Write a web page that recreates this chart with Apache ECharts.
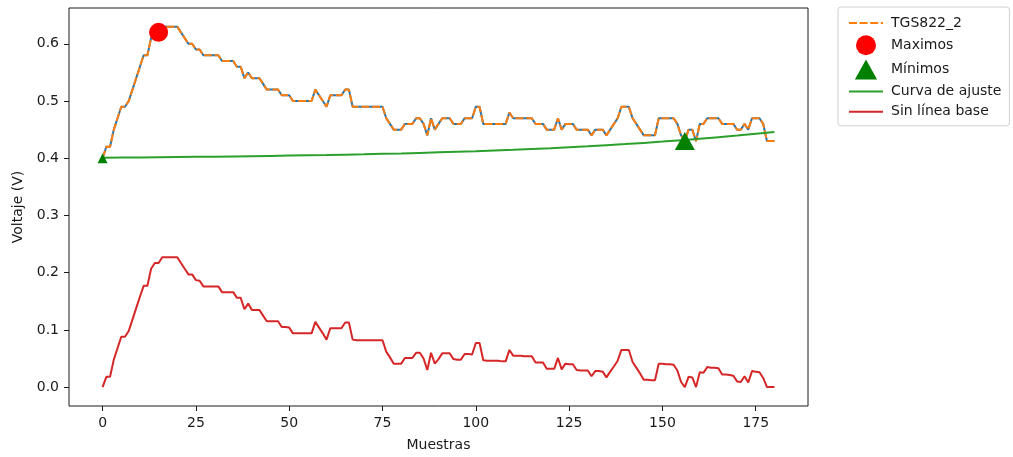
<!DOCTYPE html>
<html>
<head>
<meta charset="utf-8">
<title>TGS822_2</title>
<script src="https://cdn.jsdelivr.net/npm/echarts@6/dist/echarts.min.js"></script>
<style>
  html, body { margin: 0; padding: 0; background: #fff; }
  #chart { width: 1013px; height: 457px; }
</style>
</head>
<body>
<div id="chart"></div>
<script>
// Sensor TGS822_2 voltage per sample (V)
const voltage = [
  0.40,0.42,0.42,0.45,0.47,0.49,0.49,0.50,0.52,0.54,
  0.56,0.58,0.58,0.61,0.62,0.62,0.63,0.63,0.63,0.63,
  0.63,0.62,0.61,0.60,0.60,0.59,0.59,0.58,0.58,0.58,
  0.58,0.58,0.57,0.57,0.57,0.57,0.56,0.56,0.54,0.55,
  0.54,0.54,0.54,0.53,0.52,0.52,0.52,0.52,0.51,0.51,
  0.51,0.50,0.50,0.50,0.50,0.50,0.50,0.52,0.51,0.50,
  0.49,0.51,0.51,0.51,0.51,0.52,0.52,0.49,0.49,0.49,
  0.49,0.49,0.49,0.49,0.49,0.49,0.47,0.46,0.45,0.45,
  0.45,0.46,0.46,0.46,0.47,0.47,0.46,0.44,0.47,0.45,
  0.46,0.47,0.47,0.47,0.46,0.46,0.46,0.47,0.47,0.47,
  0.49,0.49,0.46,0.46,0.46,0.46,0.46,0.46,0.46,0.48,
  0.47,0.47,0.47,0.47,0.47,0.47,0.46,0.46,0.46,0.45,
  0.45,0.45,0.47,0.45,0.46,0.46,0.46,0.45,0.45,0.45,
  0.45,0.44,0.45,0.45,0.45,0.44,0.45,0.46,0.47,0.49,
  0.49,0.49,0.47,0.46,0.45,0.44,0.44,0.44,0.44,0.47,
  0.47,0.47,0.47,0.47,0.46,0.44,0.43,0.45,0.45,0.43,
  0.46,0.46,0.47,0.47,0.47,0.47,0.46,0.46,0.46,0.46,
  0.45,0.45,0.46,0.45,0.47,0.47,0.47,0.46,0.43,0.43,
  0.43
];

// Signal with the fitted baseline removed (V)
const sinLineaBase = [
  0.000,0.018,0.018,0.048,0.068,0.088,0.088,0.098,0.118,0.138,
  0.158,0.177,0.177,0.207,0.217,0.217,0.227,0.227,0.227,0.227,
  0.227,0.217,0.207,0.197,0.197,0.187,0.186,0.176,0.176,0.176,
  0.176,0.176,0.166,0.166,0.166,0.166,0.156,0.156,0.136,0.146,
  0.135,0.135,0.135,0.125,0.115,0.115,0.115,0.115,0.105,0.105,
  0.104,0.094,0.094,0.094,0.094,0.094,0.094,0.114,0.104,0.094,
  0.083,0.103,0.103,0.103,0.103,0.113,0.113,0.083,0.082,0.082,
  0.082,0.082,0.082,0.082,0.082,0.082,0.062,0.052,0.041,0.041,
  0.041,0.051,0.051,0.051,0.060,0.060,0.050,0.030,0.060,0.041,
  0.049,0.059,0.059,0.059,0.049,0.048,0.048,0.058,0.058,0.057,
  0.077,0.077,0.047,0.046,0.046,0.046,0.046,0.045,0.045,0.065,
  0.055,0.055,0.055,0.054,0.054,0.054,0.043,0.043,0.043,0.032,
  0.032,0.032,0.051,0.031,0.041,0.040,0.040,0.030,0.029,0.029,
  0.029,0.019,0.028,0.028,0.027,0.017,0.027,0.036,0.046,0.065,
  0.065,0.065,0.044,0.034,0.024,0.013,0.013,0.012,0.012,0.041,
  0.041,0.040,0.040,0.039,0.029,0.009,0.000,0.018,0.017,0.000,
  0.026,0.025,0.035,0.034,0.034,0.033,0.022,0.022,0.021,0.020,
  0.010,0.009,0.019,0.008,0.028,0.027,0.026,0.016,0.000,0.000,
  0.000
];

// Baseline fit curve, sampled every 10 samples
const fitX = [0,10,20,30,40,50,60,70,80,90,100,110,120,130,140,150,160,170,180];
const fitY = [0.4010,0.4015,0.4021,0.4028,0.4036,0.4046,0.4057,0.4070,0.4085,0.4103,
              0.4124,0.4148,0.4176,0.4209,0.4247,0.4291,0.4342,0.4397,0.4458];

// Detected extremes
const maxX = [15];
const maxY = [0.62];
const minX = [0, 156];
const minY = [0.40, 0.43];

// Axis ticks
const xTicks = [0, 25, 50, 75, 100, 125, 150, 175];
const yTicks = [0.0, 0.1, 0.2, 0.3, 0.4, 0.5, 0.6];

const pairs = (xs, ys) => ys.map((v, i) => [xs ? xs[i] : i, v]);

const FONT = 'DejaVu Sans';
const TXT = '#1a1a1a';
const lineOnly = { opacity: 0 };   // hide the marker drawn inside line legend icons

const chart = echarts.init(document.getElementById('chart'), null, { renderer: 'canvas' });

chart.setOption({
  animation: false,
  backgroundColor: '#fff',
  textStyle: { fontFamily: FONT },
  grid: {
    left: 69, right: 205, top: 8, bottom: 49,
    show: true, borderColor: '#1a1a1a', borderWidth: 1, backgroundColor: 'transparent'
  },
  legend: {
    orient: 'vertical',
    left: 838, top: 7,
    padding: [8, 8, 6, 10],
    itemWidth: 34, itemHeight: 20, itemGap: 4.2,
    symbolKeepAspect: true,
    backgroundColor: 'rgba(255,255,255,0.8)',
    borderColor: '#d0d0d0', borderWidth: 1, borderRadius: 3,
    textStyle: { fontFamily: FONT, fontSize: 14, color: TXT, padding: [0, 0, 0, 3] },
    data: [
      { name: 'TGS822_2', itemStyle: lineOnly },
      { name: 'Maximos', icon: 'circle' },
      { name: 'Mínimos', icon: 'path://M10,0L20,18L0,18Z' },
      { name: 'Curva de ajuste', itemStyle: lineOnly },
      { name: 'Sin línea base', itemStyle: lineOnly }
    ]
  },
  xAxis: {
    type: 'value', min: -9, max: 189,
    name: 'Muestras', nameLocation: 'middle', nameGap: 32,
    nameTextStyle: { fontFamily: FONT, fontSize: 14, color: TXT },
    axisLine: { show: false, onZero: false },
    axisTick: { show: true, length: 5, customValues: xTicks, lineStyle: { color: '#1a1a1a', width: 1 } },
    axisLabel: { customValues: xTicks, margin: 10, fontFamily: FONT, fontSize: 14, color: TXT },
    splitLine: { show: false }
  },
  yAxis: {
    type: 'value', min: -0.033, max: 0.6626,
    name: 'Voltaje (V)', nameLocation: 'middle', nameGap: 39,
    nameTextStyle: { fontFamily: FONT, fontSize: 14, color: TXT },
    axisLine: { show: false, onZero: false },
    axisTick: { show: true, length: 5, customValues: yTicks, lineStyle: { color: '#1a1a1a', width: 1 } },
    axisLabel: { customValues: yTicks, margin: 10, fontFamily: FONT, fontSize: 14, color: TXT,
                 formatter: v => v.toFixed(1) },
    splitLine: { show: false }
  },
  series: [
    {
      name: 'señal', type: 'line', data: pairs(null, voltage),
      showSymbol: false, symbol: 'none', z: 2,
      lineStyle: { color: '#1f77b4', width: 2 }
    },
    {
      name: 'TGS822_2', type: 'line', data: pairs(null, voltage),
      showSymbol: false, symbol: 'none', z: 3,
      itemStyle: { color: '#ff7f0e' },
      lineStyle: { color: '#ff7f0e', width: 2, type: [8, 2.6] }
    },
    {
      name: 'Curva de ajuste', type: 'line', data: pairs(fitX, fitY),
      showSymbol: false, symbol: 'none', smooth: 0.3, z: 4,
      itemStyle: { color: '#2ca02c' },
      lineStyle: { color: '#2ca02c', width: 2 }
    },
    {
      name: 'Sin línea base', type: 'line', data: pairs(null, sinLineaBase),
      showSymbol: false, symbol: 'none', z: 4,
      itemStyle: { color: '#d62728' },
      lineStyle: { color: '#d62728', width: 2 }
    },
    {
      name: 'Maximos', type: 'scatter', data: pairs(maxX, maxY),
      symbol: 'circle', symbolSize: 19, z: 6,
      itemStyle: { color: '#ff0000', opacity: 1 }
    },
    {
      name: 'Mínimos', type: 'scatter', data: pairs(minX, minY),
      symbol: 'triangle', z: 6,
      symbolSize: (val, p) => (p.dataIndex === 0 ? [10, 10] : [20, 18]),
      itemStyle: { color: '#008000', opacity: 1 }
    }
  ]
});
</script>
</body>
</html>
